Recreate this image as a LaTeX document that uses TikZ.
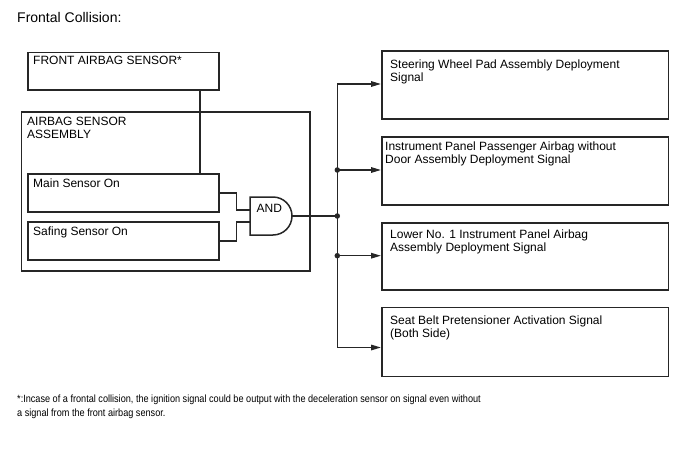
\documentclass[tikz,border=0pt]{standalone}
\usepackage{fontspec}
\setmainfont{Liberation Sans}
\usetikzlibrary{arrows.meta}
\definecolor{ln}{HTML}{262626}
\begin{document}
\begin{tikzpicture}[x=1pt,y=-1pt,
  box/.style={draw=ln,line width=1.5pt,inner sep=0pt,anchor=north west},
  lbl/.style={anchor=base west,inner sep=0pt,align=left,font=\fontsize{12}{13}\selectfont,text=black},
  wire/.style={draw=ln,line width=1.5pt},
  arr/.style={wire,-{Triangle[length=10pt,width=5.5pt]}},
  dot/.style={circle,fill=ln,inner sep=0pt,minimum size=5.5pt}]
\useasboundingbox (0,0) rectangle (688,463);
\node[anchor=base west,inner sep=0pt,font=\fontsize{14}{16}\selectfont] (title) at (17,23) {Frontal Collision:};
% left boxes
\node[box,minimum width=191pt,minimum height=37.6pt] (front) at (27,51.7) {};
\node[lbl] (frontT) at (33,64) {FRONT AIRBAG SENSOR*};
\node[box,minimum width=288.3pt,minimum height=159pt] (assy) at (20.7,111) {};
\node[lbl] (assyT) at (27,138) {AIRBAG SENSOR\\ASSEMBLY};
\node[box,minimum width=191pt,minimum height=38pt] (main) at (27,173) {};
\node[lbl] (mainT) at (33,187) {Main Sensor On};
\node[box,minimum width=191pt,minimum height=38pt] (saf) at (27,221) {};
\node[lbl] (safT) at (33,235) {Safing Sensor On};
\draw[wire] ([xshift=76.5pt]front.south) -- ([xshift=76.5pt]main.north);
% AND gate
\coordinate (gin1) at (250,210);
\coordinate (gin2) at (250,222);
\coordinate (gout) at (292,216);
\draw[wire] (250,197) -- (273,197) arc(-90:90:19) -- (250,235) -- cycle;
\node[lbl] (andT) at (256.5,212) {AND};
\draw[wire] (main.east) -- ++(17,0) |- (gin1);
\draw[wire] (saf.east) -- ++(17,0) |- (gin2);
% bus
\coordinate (bt) at (337.3,84);
\coordinate (bb) at (337.3,347.5);
\node[dot] (j0) at (337.3,216) {};
\draw[wire] (gout) -- (j0.center);
\draw[wire] (bt) -- (bb);
% right boxes
\node[box,minimum width=286.7pt,minimum height=68pt] (s1) at (381,50) {};
\node[box,minimum width=286.7pt,minimum height=68pt] (s2) at (381,136) {};
\node[box,minimum width=286.7pt,minimum height=67.3pt] (s3) at (381,222) {};
\node[box,minimum width=286.7pt,minimum height=69pt] (s4) at (381,306.7) {};
\node[lbl] (s1T) at (390,81) {Steering Wheel Pad Assembly Deployment\\Signal};
\node[lbl] (s2T) at (385,163) {Instrument Panel Passenger Airbag without\\Door Assembly Deployment Signal};
\node[lbl] (s3T) at (390,251) {Lower No. 1 Instrument Panel Airbag\\Assembly Deployment Signal};
\node[lbl] (s4T) at (390,337) {Seat Belt Pretensioner Activation Signal\\(Both Side)};
\node[dot] (j2) at (337.3,170) {};
\node[dot] (j3) at (337.3,255.7) {};
\draw[arr] (bt) -- (s1.west |- bt);
\draw[arr] (j2.center) -- (s2.west |- j2.center);
\draw[arr] (j3.center) -- (s3.west |- j3.center);
\draw[arr] (bb) -- (s4.west |- bb);
% footnote
\node[anchor=base west,inner sep=0pt,align=left,font=\fontsize{10.5}{14}\selectfont] (note) at (17,416)
 {\scalebox{0.87}[1]{*:Incase of a frontal collision, the ignition signal could be output with the deceleration sensor on signal even without}\\
  \scalebox{0.87}[1]{a signal from the front airbag sensor.}};
\end{tikzpicture}
\end{document}
